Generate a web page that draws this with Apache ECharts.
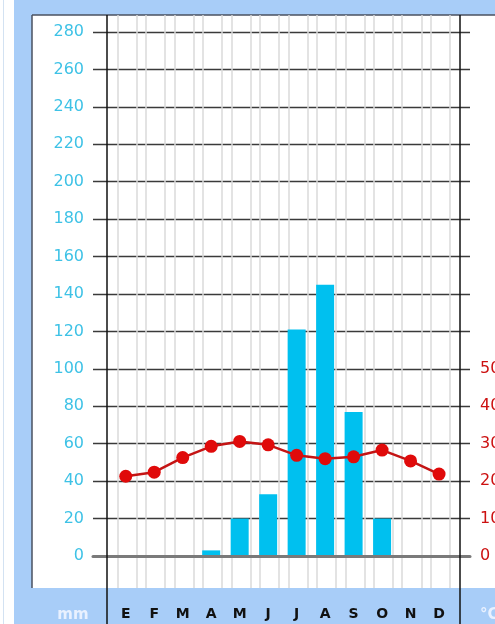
<!doctype html>
<html>
<head>
    <meta charset="utf-8" />
    <script src="https://cdn.jsdelivr.net/npm/echarts@6/dist/echarts.min.js"></script>
    <style>
        html, body { margin: 0; padding: 0; background: #fff; }
        #chart { width: 495px; height: 624px; }
    </style>
</head>
<body>
<div id="chart"></div>
<script>
// monthly climate data
var months = ['E', 'F', 'M', 'A', 'M', 'J', 'J', 'A', 'S', 'O', 'N', 'D'];
var rain = [0, 0, 0, 3, 20, 33, 121, 145, 77, 20, 0, 0];
var temp = [21.3, 22.4, 26.3, 29.3, 30.6, 29.7, 26.9, 26.0, 26.5, 28.3, 25.4, 21.9];
var rainTicks = { min: 0, max: 280, step: 20 };
var tempTicks = { min: 0, max: 140, step: 10, lastLabel: 50 };

var BLUE = '#a8cdf8';
var FONT = 'DejaVu Sans';

var myChart = echarts.init(document.getElementById('chart'), null, { renderer: 'canvas' });

function hiddenAxis(extra) {
    return Object.assign({
        type: 'value',
        show: true,
        axisLine: { show: false },
        axisTick: { show: false },
        axisLabel: { show: false },
        splitLine: { show: false }
    }, extra);
}

var vLine = { show: true, lineStyle: { color: '#dadada', width: 1.5 } };

var options = {
    backgroundColor: BLUE,
    animation: false,
    grid: [
        // bars + line
        { left: 111.5, width: 341.8, top: 32, height: 524, outerBoundsMode: 'none' },
        // frame with horizontal lines and labels
        { left: 93, right: 25, top: 32, height: 524, outerBoundsMode: 'none' },
        // light vertical lines (two per month)
        { left: 117.4, width: 313.3, top: 15, height: 573, outerBoundsMode: 'none' },
        { left: 136.6, width: 313.3, top: 15, height: 573, outerBoundsMode: 'none' }
    ],
    xAxis: [{
            gridIndex: 0,
            type: 'category',
            data: months,
            axisLine: { show: false },
            axisTick: { show: false },
            splitLine: { show: false },
            axisLabel: {
                interval: 0,
                margin: 51,
                color: '#111',
                fontFamily: FONT,
                fontWeight: 'bold',
                fontSize: 14
            }
        },
        hiddenAxis({
            gridIndex: 1, min: 0, max: 1, z: 10,
            axisLine: { show: true, onZero: false, lineStyle: { color: '#7a7a7a', width: 3 } }
        }),
        hiddenAxis({ gridIndex: 2, min: 0, max: 11, interval: 1, splitLine: vLine }),
        hiddenAxis({ gridIndex: 3, min: 0, max: 11, interval: 1, splitLine: vLine })
    ],
    yAxis: [
        hiddenAxis({ gridIndex: 0, min: rainTicks.min, max: rainTicks.max }),
        hiddenAxis({ gridIndex: 0, min: tempTicks.min, max: tempTicks.max }),
        {
            gridIndex: 1,
            type: 'value',
            position: 'left',
            min: rainTicks.min,
            max: rainTicks.max,
            interval: rainTicks.step,
            axisLine: { show: false },
            axisTick: { show: false },
            axisLabel: { margin: 9, color: '#3ec2e6', fontFamily: FONT, fontSize: 16 },
            splitLine: { show: true, lineStyle: { color: '#3a3a3a', width: 1.3 } }
        },
        {
            gridIndex: 1,
            type: 'value',
            position: 'right',
            min: tempTicks.min,
            max: tempTicks.max,
            interval: tempTicks.step,
            axisLine: { show: false },
            axisTick: { show: false },
            splitLine: { show: false },
            axisLabel: {
                margin: 10,
                color: '#cc1111',
                fontFamily: FONT,
                fontSize: 16,
                formatter: function (v) { return v <= tempTicks.lastLabel ? String(v) : ''; }
            }
        },
        hiddenAxis({ gridIndex: 2, min: 0, max: 1 }),
        hiddenAxis({ gridIndex: 3, min: 0, max: 1 })
    ],
    series: [{
            type: 'bar',
            xAxisIndex: 0,
            yAxisIndex: 0,
            data: rain,
            barWidth: 18,
            itemStyle: { color: '#00c0ef' },
            z: 3
        },
        {
            type: 'line',
            xAxisIndex: 0,
            yAxisIndex: 1,
            data: temp,
            symbol: 'circle',
            symbolSize: 13,
            lineStyle: { color: '#c41414', width: 2.5 },
            itemStyle: { color: '#e00a0a' },
            z: 12
        }
    ],
    graphic: [
        { type: 'rect', z: -10, shape: { x: 0, y: 0, width: 14, height: 624 }, style: { fill: '#fff' } },
        { type: 'line', z: -9, shape: { x1: 3.5, y1: 0, x2: 3.5, y2: 624 }, style: { stroke: '#d3e2f2', lineWidth: 1 } },
        { type: 'rect', z: -10, shape: { x: 32, y: 15, width: 463, height: 573 }, style: { fill: '#fff' } },
        { type: 'line', z: -9, shape: { x1: 32, y1: 15, x2: 32, y2: 588 }, style: { stroke: '#4a5060', lineWidth: 1.5 } },
        { type: 'line', z: -9, shape: { x1: 32, y1: 15, x2: 495, y2: 15 }, style: { stroke: '#4a5060', lineWidth: 1.5 } },
        { type: 'line', z: 50, shape: { x1: 107, y1: 15, x2: 107, y2: 624 }, style: { stroke: '#111', lineWidth: 1.5 } },
        { type: 'line', z: 50, shape: { x1: 460, y1: 15, x2: 460, y2: 624 }, style: { stroke: '#111', lineWidth: 1.5 } },
        {
            type: 'text', z: 50, x: 73, y: 615,
            style: { text: 'mm', fill: '#e9f1ff', font: 'bold 15px "DejaVu Sans"', align: 'center', verticalAlign: 'middle' }
        },
        {
            type: 'text', z: 50, x: 480, y: 615,
            style: { text: '°C', fill: '#e9f1ff', font: 'bold 15px "DejaVu Sans"', align: 'left', verticalAlign: 'middle' }
        }
    ]
};

myChart.setOption(options);
</script>
</body>
</html>
